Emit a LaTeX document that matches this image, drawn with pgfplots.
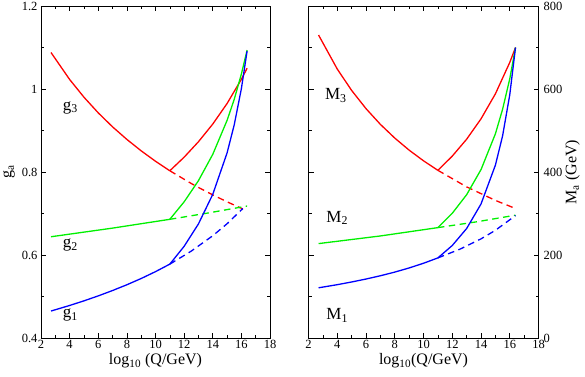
\documentclass[border=0pt]{standalone}
\usepackage{fontspec}
\setmainfont{Liberation Serif}
\usepackage{pgfplots}
\pgfplotsset{compat=1.18}

\pgfplotsset{
  panel/.style={
    height=332pt, scale only axis,
    xmin=2, xmax=18, xtick={2,4,...,18}, minor x tick num=1,
    tick align=inside, major tick length=5pt, minor tick length=3pt,
    every tick/.style={black, line width=0.6pt},
    axis line style={line width=0.7pt},
    tick label style={font=\fontsize{12.5}{14}\selectfont},
    /pgf/number format/assume math mode=true,
    xticklabel style={yshift=1pt},
    every axis x label/.style={at={(rel axis cs:0.5,0)}, yshift=-23pt, anchor=center,
      font=\fontsize{16}{18}\selectfont},
  },
}
\tikzset{
  sol/.style={line width=1.3pt},
  das/.style={line width=1.3pt, dash pattern=on 6.5pt off 4.5pt},
  lab/.style={font=\fontsize{17}{19}\selectfont},
}
\definecolor{cred}{RGB}{255,0,0}
\definecolor{cgreen}{RGB}{0,240,0}
\definecolor{cblue}{RGB}{0,0,255}

\begin{document}
\begin{tikzpicture}
% left panel: couplings
\begin{axis}[panel, width=229pt,
    ymin=0.4, ymax=1.2, ytick={0.4,0.6,0.8,1,1.2}, minor y tick num=1,
    yticklabel style={/pgf/number format/fixed},
    xlabel={log\textsubscript{10} (Q/GeV)},
    ylabel={g\textsubscript{a}},
    every axis y label/.style={at={(rel axis cs:0,0.5)}, xshift=-32pt, rotate=90, anchor=center,
      font=\fontsize{16}{18}\selectfont},
]
\addplot[sol, cred] coordinates {(2.7,1.0879)(4,1.0230)(5,0.9803)(6,0.9425)(7,0.9088)(8,0.8785)(9,0.8510)(10,0.8259)(11,0.8030)};
\addplot[sol, cred] coordinates {(11,0.8030)(12,0.8357)(13,0.8729)(14,0.9155)(15,0.9650)(16,1.0234)(16.4,1.0500)};
\addplot[das, cred] coordinates {(11,0.8030)(12.5,0.7723)(13,0.7628)(14,0.7449)(15,0.7282)(16.1,0.7110)};
\addplot[sol, cgreen] coordinates {(2.7,0.644)(7,0.6648)(11,0.686)};
\addplot[sol, cgreen] coordinates {(11,0.686)(12,0.7281)(13,0.7791)(14,0.8425)(15,0.9244)(15.5,0.9750)(16,1.0361)(16.4,1.0937)};
\addplot[das, cgreen] coordinates {(11,0.686)(13.7,0.7014)(16.4,0.718)};
\addplot[sol, cblue] coordinates {(2.7,0.4650)(4,0.4784)(5,0.4895)(6,0.5015)(7,0.5144)(8,0.5283)(9,0.5434)(10,0.5599)(11,0.5780)};
\addplot[sol, cblue] coordinates {(11,0.5780)(12,0.6209)(13,0.6749)(14,0.7461)(15,0.8459)(15.5,0.9136)(16,1.0008)(16.4,1.0917)};
\addplot[das, cblue] coordinates {(11,0.5780)(12.5,0.6094)(14,0.6464)(15,0.6753)(16.1,0.7119)};
\node[lab] at (axis cs:4.05,0.955) {g\textsubscript{3}};
\node[lab] at (axis cs:4.05,0.624) {g\textsubscript{2}};
\node[lab] at (axis cs:4.05,0.455) {g\textsubscript{1}};
\end{axis}

% right panel: gaugino masses
\begin{axis}[panel, width=230pt, at={(267.5pt,0)},
    ymin=0, ymax=800, ytick={0,200,...,800}, minor y tick num=1,
    yticklabel pos=right, yticklabel style={xshift=1.5pt},
    xlabel={log\textsubscript{10}(Q/GeV)},
    ylabel={M\textsubscript{a} (GeV)},
    every axis y label/.style={at={(rel axis cs:1,0.5)}, xshift=34pt, rotate=90, anchor=center,
      font=\fontsize{16}{18}\selectfont},
]
\addplot[sol, cred] coordinates {(2.7,730)(4,648.1)(5,596.6)(6,552.7)(7,514.8)(8,481.8)(9,452.7)(10,427.0)(11,404)};
\addplot[sol, cred] coordinates {(11,404)(12,438.3)(13,479.0)(14,528.1)(15,588.3)(16,664.0)(16.4,700)};
\addplot[das, cred] coordinates {(11,404)(13,364.2)(15,331.6)(16.4,312)};
\addplot[sol, cgreen] coordinates {(2.7,227.5)(7,245.9)(11,266)};
\addplot[sol, cgreen] coordinates {(11,266)(12,300.5)(13,345.3)(14,405.8)(15,491.9)(15.5,551)(16,624.5)(16.4,700)};
\addplot[das, cgreen] coordinates {(11,266)(13.7,280)(16.4,296)};
\addplot[sol, cblue] coordinates {(2.7,121)(4,128.5)(5,135.0)(6,142.1)(7,150.0)(8,158.8)(9,168.8)(10,180.1)(11,193)};
\addplot[sol, cblue] coordinates {(11,193)(12,222.9)(13,263.8)(14,322.9)(15,416.4)(15.5,486.8)(16,586.0)(16.4,700)};
\addplot[das, cblue] coordinates {(11,193)(12.5,213.5)(14,238.9)(15,259.5)(16.4,295)};
\node[lab] at (axis cs:3.9,585) {M\textsubscript{3}};
\node[lab] at (axis cs:4.0,289) {M\textsubscript{2}};
\node[lab] at (axis cs:4.0,55) {M\textsubscript{1}};
\end{axis}
\pgfresetboundingbox
\path[use as bounding box] (-41pt,-38pt) rectangle (544pt,338pt);
\end{tikzpicture}
\end{document}
